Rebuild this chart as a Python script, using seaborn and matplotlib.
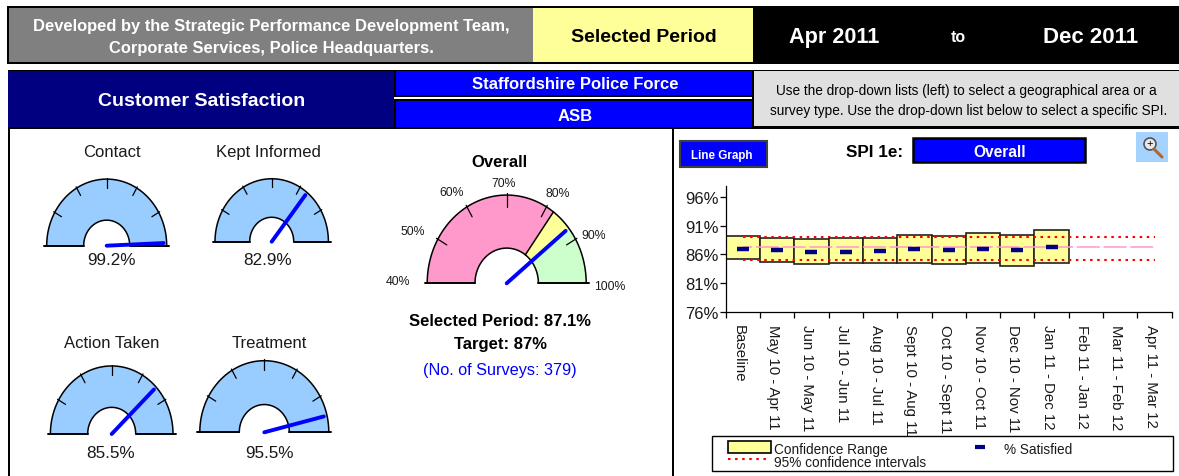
import numpy as np
import pandas as pd
import seaborn as sns
import matplotlib
matplotlib.use('Agg')
import matplotlib.pyplot as plt
from matplotlib.patches import Rectangle, Circle

# Chart data
periods = ['Baseline', 'May 10 - Apr 11', 'Jun 10 - May 11', 'Jul 10 - Jun 11', 'Aug 10 - Jul 11',
           'Sept 10 - Aug 11', 'Oct 10 - Sept 11', 'Nov 10 - Oct 11', 'Dec 10 - Nov 11',
           'Jan 11 - Dec 12', 'Feb 11 - Jan 12', 'Mar 11 - Feb 12', 'Apr 11 - Mar 12']
range_high = [89.2, 88.95, 88.7, 88.95, 88.95, 89.4, 89.2, 89.7, 89.4, 90.2]
range_low = [85.25, 84.75, 84.3, 84.5, 84.5, 84.5, 84.3, 84.5, 84.05, 84.5]
satisfied = [87.0, 86.7, 86.5, 86.5, 86.6, 87.0, 86.7, 87.0, 86.7, 87.25]
upper_ci = [89.05] * 13
lower_ci = [85.05] * 13
baseline_mid = [87.25] * 13
y_ticks = [76, 81, 86, 91, 96]

# Gauge data
gauge_names = ['Contact', 'Kept Informed', 'Action Taken', 'Treatment']
gauge_values = [99.2, 82.9, 85.5, 95.5]
overall_value = 87.1
overall_target = 87
overall_amber = 82
overall_ticks = [50, 60, 70, 80, 90]
overall_labels = ['40%', '50%', '60%', '70%', '80%', '90%', '100%']
surveys = 379

NAVY = '#000080'
BLUE = '#0000FF'
GAUGE_BLUE = '#99CCFF'
YELLOW = '#FFFF99'
PINK = '#FF99CC'
GREEN = '#CCFFCC'
TEXT = '#1a1a1a'
STRETCH = 1.11  # dials are taller than wide in the original

sns.set_theme(style='white')
plt.rcParams['font.family'] = ['Liberation Sans', 'DejaVu Sans']

fig = plt.figure(figsize=(11.79, 4.77), dpi=100)
sheet = fig.add_axes([0, 0, 1, 1])
sheet.set_xlim(0, 1179)
sheet.set_ylim(477, 0)
sheet.axis('off')


def box(x0, y0, x1, y1, fc, ec='none', lw=0, z=1):
    sheet.add_patch(Rectangle((x0, y0), x1 - x0, y1 - y0, fc=fc, ec=ec, lw=lw, zorder=z))


def label(x, y, s, size, color=TEXT, bold=False, **kw):
    kw.setdefault('ha', 'center')
    sheet.text(x, y + 3, s, fontsize=size, color=color, va='center', zorder=10,
               fontweight='bold' if bold else 'normal', **kw)


def angle_of(v):
    # dial runs 40% on the left to 100% on the right
    return np.radians(180 * (100 - v) / 60)


def arc(cx, cy, R, v0, v1):
    a = np.linspace(angle_of(v0), angle_of(v1), 80)
    return cx + R * np.cos(a), cy - R * STRETCH * np.sin(a)


def gauge(cx, cy, R, r, value, bands, ticks, edges=()):
    for v0, v1, col in bands:
        ox, oy = arc(cx, cy, R, v0, v1)
        ix, iy = arc(cx, cy, r, v1, v0)
        sheet.fill(np.r_[ox, ix], np.r_[oy, iy], fc=col, ec='none', zorder=3)
    for rad in (R, r):
        ox, oy = arc(cx, cy, rad, 40, 100)
        sheet.plot(ox, oy, color='black', lw=1.1, zorder=4)
    sheet.plot([cx - R - 2.5, cx - r], [cy, cy], color='black', lw=1.4, zorder=4)
    sheet.plot([cx + r, cx + R + 2.5], [cy, cy], color='black', lw=1.4, zorder=4)
    for e in edges:
        a = angle_of(e)
        sheet.plot([cx + r * np.cos(a), cx + R * np.cos(a)],
                   [cy - r * STRETCH * np.sin(a), cy - R * STRETCH * np.sin(a)],
                   color='black', lw=1.1, zorder=4)
    for t in ticks:
        a = angle_of(t)
        sheet.plot([cx + R * 1.02 * np.cos(a), cx + R * 0.87 * np.cos(a)],
                   [cy - R * 1.02 * STRETCH * np.sin(a), cy - R * 0.87 * STRETCH * np.sin(a)],
                   color='black', lw=0.9, zorder=4)
    a = angle_of(value)
    L = R * 0.95
    sheet.plot([cx, cx + L * np.cos(a)], [cy, cy - L * STRETCH * np.sin(a)], color=BLUE, lw=2.8,
               solid_capstyle='round', zorder=5)


# Header rows
box(7, 7, 1179, 65, 'black')
box(9, 9, 533, 63, '#808080')
box(533, 9, 753, 63, YELLOW)
label(271, 23, 'Developed by the Strategic Performance Development Team,', 11.9, 'white', True)
label(271, 45, 'Corporate Services, Police Headquarters.', 11.9, 'white', True)
label(644, 34.5, 'Selected Period', 14, 'black', True)
label(834, 34.5, 'Apr 2011', 15.6, 'white', True)
label(958, 34.5, 'to', 11.5, 'white', True)
label(1091, 34.5, 'Dec 2011', 16, 'white', True)

box(8, 71, 1179, 130, 'black')
box(8, 72, 394, 128, NAVY)
box(396, 72, 752, 96, BLUE)
box(394, 98, 752, 100, 'white')
box(396, 102, 752, 128, BLUE)
box(754, 72, 1179, 127, '#E0E0E0')
label(202, 98.5, 'Customer Satisfaction', 14, 'white', True)
label(575, 81.5, 'Staffordshire Police Force', 12, 'white', True)
label(575, 113.5, 'ASB', 12, 'white', True)
label(966, 87.5, 'Use the drop-down lists (left) to select a geographical area or a', 9.85, 'black')
label(969, 108.5, 'survey type. Use the drop-down list below to select a specific SPI.', 9.85, 'black')

# Panel lines
box(8, 129, 10, 477, 'black')
box(672, 129, 674, 477, 'black')

# Small gauges
centres = [(106.7, 246.7, 60, 23), (271.7, 242.7, 56.7, 22), (111.7, 435, 61.3, 24), (264.3, 433.3, 64.5, 25)]
title_pos = [(112, 149.5), (268, 149.5), (112, 340.5), (269, 340.5)]
value_pos = [(111, 257.5), (268, 257.5), (111, 450.5), (269, 450.5)]
for name, val, (cx, cy, R, r), tp, vp in zip(gauge_names, gauge_values, centres, title_pos, value_pos):
    gauge(cx, cy, R, r, val, [(40, 100, GAUGE_BLUE)], overall_ticks)
    label(tp[0], tp[1], name, 12)
    label(vp[0], vp[1], f'{val}%', 12.3)

# Overall gauge
gauge(506.7, 284.3, 79.5, 31.7, overall_value,
      [(40, overall_amber, PINK), (overall_amber, overall_target, YELLOW), (overall_target, 100, GREEN)],
      overall_ticks, edges=[overall_amber])
label(499, 159.5, 'Overall', 12, 'black', True)
overall_pos = [(398, 279), (412.7, 229), (451.7, 190), (504, 181), (558, 191), (594, 233), (610, 284.5)]
for s, (x, y) in zip(overall_labels, overall_pos):
    label(x, y, s, 8.8)
label(500, 318.5, f'Selected Period: {overall_value}%', 12, 'black', True)
label(500, 341.5, f'Target: {overall_target}%', 12, 'black', True)
label(500, 367.5, f'(No. of Surveys: {surveys})', 11.7, BLUE)

# Chart controls
box(680, 142, 767, 168, BLUE, '#404040', 1.5)
label(722, 153.5, 'Line Graph', 8.4, 'white', True)
label(875, 149.5, 'SPI 1e:', 12.3, 'black', True)
box(913, 139, 1085, 163, BLUE, 'black', 1.8)
label(1000, 149.5, 'Overall', 11.2, 'white', True)
box(1136, 133, 1168, 163, '#A6D2FF')
sheet.add_patch(Circle((1150, 145), 6, fc='#E8E8E8', ec='#555555', lw=1.2, zorder=5))
sheet.plot([1154, 1162], [150, 158], color='#B06A30', lw=2.2, zorder=5)
label(1150, 141.5, '+', 8, 'black')

# Chart
chart = pd.DataFrame({'period': periods[:10], 'low': range_low, 'high': range_high, 'sat': satisfied})
chart['spread'] = chart['high'] - chart['low']
full = pd.DataFrame({'period': periods, 'up': upper_ci, 'lo': lower_ci, 'mid': baseline_mid})

ax = fig.add_axes([725.7 / 1179, 1 - 312.7 / 477, 446 / 1179, 126 / 477])
ax.patch.set_alpha(0)
sns.barplot(data=chart, x='period', y='spread', bottom=chart['low'], order=periods, width=1.0,
            color=YELLOW, saturation=1, edgecolor='#222222', linewidth=1.2, ax=ax)
sns.lineplot(data=full, x='period', y='mid', color=PINK, lw=1.1, ax=ax, zorder=4)
ax.lines[-1].set_linestyle((9, (15, 2.5)))
for col in ['up', 'lo']:
    sns.lineplot(data=full, x='period', y=col, color='red', lw=1.5, ax=ax, zorder=5)
    ax.lines[-1].set_linestyle((0, (1.2, 2.2)))
sns.scatterplot(data=chart, x='period', y='sat', marker='_', s=80, color=NAVY, linewidth=3.2, ax=ax, zorder=6)

ax.set_xlim(-0.5, 12.5)
ax.set_ylim(76, 98)
ax.set_yticks(y_ticks)
ax.set_yticklabels([f'{t}%' for t in y_ticks], fontsize=12, color=TEXT)
ax.set_xticks(np.arange(-0.5, 13, 1))
ax.set_xticklabels([])
ax.tick_params(axis='x', length=4, width=0.9, color='black', bottom=True)
ax.tick_params(axis='y', length=4, width=0.9, color='black', left=True, pad=1)
ax.set_xlabel('')
ax.set_ylabel('')
sns.despine(ax=ax)
for side in ['left', 'bottom']:
    ax.spines[side].set_color('black')
    ax.spines[side].set_linewidth(0.9)

# Rotated period labels, clipped by the legend box below
for i, p in enumerate(periods):
    x = 721.7 + (i + 0.5) * 446 / 13
    sheet.text(x, 325.5, p, rotation=270, ha='center', va='top', fontsize=10.8, color=TEXT, zorder=2)

# Legend
box(712, 436.5, 1173, 472, 'white', 'black', 1, z=6)
box(728, 442, 770.5, 454, YELLOW, 'black', 1.2, z=7)
sheet.text(774, 450, 'Confidence Range', fontsize=9.8, color=TEXT, va='center', zorder=10)
sheet.plot([975, 985], [448, 448], color=NAVY, lw=3, solid_capstyle='butt', zorder=7)
sheet.text(1004, 450, '% Satisfied', fontsize=9.8, color=TEXT, va='center', zorder=10)
sheet.plot([728, 770], [460, 460], color='red', lw=1.5, ls=(0, (1.2, 2.2)), zorder=7)
sheet.text(774, 463, '95% confidence intervals', fontsize=9.8, color=TEXT, va='center', zorder=10)

fig.savefig('out.png', dpi=100)
